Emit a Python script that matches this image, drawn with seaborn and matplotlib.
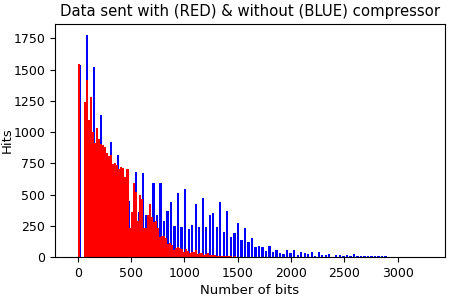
import numpy as np
import matplotlib
matplotlib.use("Agg")
import matplotlib.pyplot as plt
import seaborn as sns

# 비트 수 히스토그램 (값은 그림에서 읽음)
blue_binwidth = 33
red_binwidth = 19

# without compressor (BLUE): 33비트 간격 bin별 hits
blue_hits = [
  1540, 0, 1775, 900, 1521, 800, 1135, 700, 150, 917,
  600, 815, 500, 514, 450, 200, 677, 362, 669, 336,
  250, 589, 336, 589, 290, 370, 442, 248, 514, 237,
  541, 221, 256, 421, 242, 469, 237, 336, 354, 242,
  440, 197, 368, 162, 194, 269, 136, 229, 117, 154,
  78, 90, 78, 45, 88, 37, 56, 34, 24, 53,
  29, 53, 18, 40, 32, 21, 42, 10, 37, 13,
  16, 21, 3, 13, 13, 8, 16, 10, 24, 10,
  8, 12, 10, 6, 10, 8, 5, 10, 3, 2,
  2, 1, 1, 0, 1, 0, 1, 0, 0, 1,
]

# with compressor (RED): 19비트 간격 bin별 hits
red_hits = [
  1548, 0, 0, 1241, 1415, 1100, 1281, 1000, 909, 1034,
  948, 903, 895, 877, 834, 807, 815, 741, 749, 735,
  701, 717, 709, 642, 701, 232, 362, 594, 520, 290,
  496, 461, 234, 234, 336, 424, 322, 282, 290, 229,
  157, 168, 168, 149, 101, 109, 96, 56, 70, 78,
  70, 61, 40, 61, 45, 30, 38, 38, 56, 26,
  30, 30, 16, 26, 30, 13, 16, 13, 10, 12,
  8, 10, 6, 8, 5, 6, 4, 5, 3, 4,
  2, 3, 2, 1, 1, 1,
]

blue_centers = blue_binwidth * (np.arange(len(blue_hits)) + 0.5)
red_centers = red_binwidth * (np.arange(len(red_hits)) + 0.5)

fig = plt.figure(figsize=(4.5, 3), dpi=100)
ax = fig.add_axes([0.122, 0.143, 0.867, 0.777])

sns.histplot(x=blue_centers, weights=blue_hits, binwidth=blue_binwidth,
             binrange=(0, blue_binwidth * len(blue_hits)), shrink=0.65,
             color="blue", alpha=1, linewidth=0, ax=ax)
sns.histplot(x=red_centers, weights=red_hits, binwidth=red_binwidth,
             binrange=(0, red_binwidth * len(red_hits)),
             color="red", alpha=1, linewidth=0, ax=ax)

ax.set_xlim(-216, 3446)
ax.set_ylim(0, 1864)
ax.set_xticks(np.arange(0, 3001, 500))
ax.set_yticks(np.arange(0, 1751, 250))
ax.tick_params(labelsize=9)
ax.set_title("Data sent with (RED) & without (BLUE) compressor", fontsize=10.7)
ax.set_xlabel("Number of bits", fontsize=9.5, labelpad=3)
ax.set_ylabel("Hits", fontsize=9.5)
ax.yaxis.set_label_coords(-0.105, 0.5)

fig.savefig("out.png", dpi=100)
